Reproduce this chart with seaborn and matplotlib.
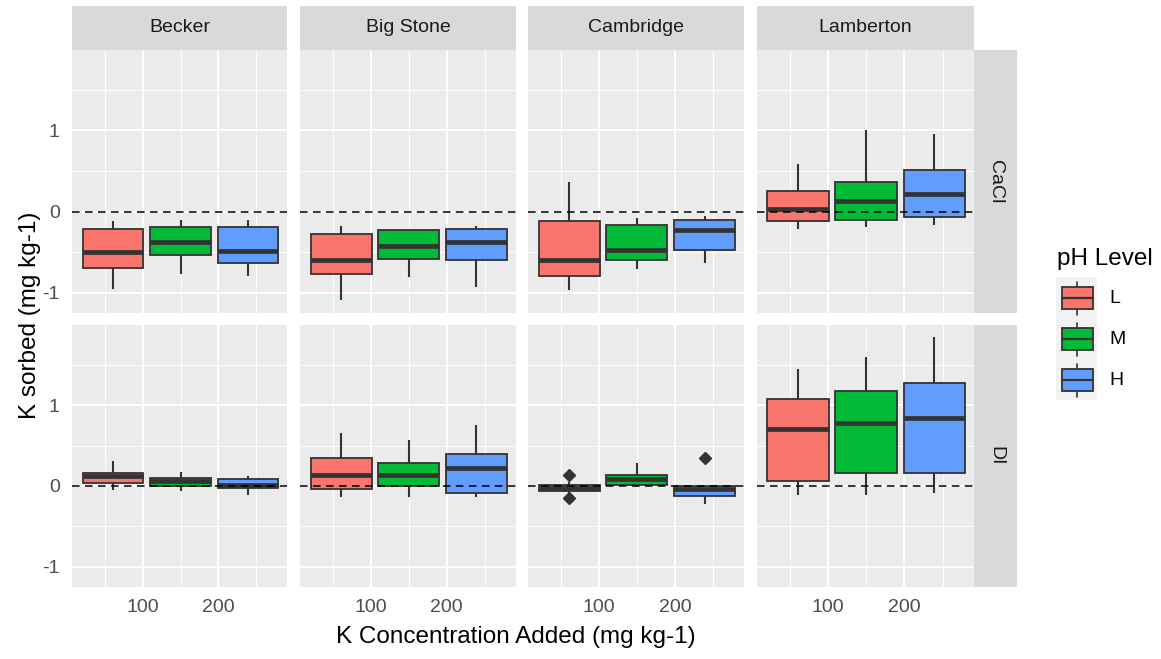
import numpy as np
import pandas as pd
import matplotlib
matplotlib.use("Agg")
import matplotlib.pyplot as plt
import seaborn as sns
from matplotlib.patches import Rectangle
from matplotlib.lines import Line2D

# ---------------- data ----------------
sites = ["Becker", "Big Stone", "Cambridge", "Lamberton"]
solutions = ["CaCl", "DI"]
ph_levels = ["L", "M", "H"]
ph_colors = ["#F8766D", "#00BA38", "#619CFF"]
k_added = 150
x_major = [100, 200]
x_minor = [50, 150, 250]
y_major = [-1, 0, 1]
y_minor = [-0.5, 0.5, 1.5]

# five-number summaries [min, q1, median, q3, max] for pH L, M, H
becker_cacl = [[-0.95, -0.70, -0.50, -0.22, -0.11],
               [-0.77, -0.53, -0.38, -0.185, -0.10],
               [-0.79, -0.63, -0.48, -0.185, -0.10]]
bigstone_cacl = [[-1.09, -0.77, -0.60, -0.28, -0.18],
                 [-0.81, -0.58, -0.42, -0.23, -0.21],
                 [-0.93, -0.60, -0.38, -0.22, -0.18]]
cambridge_cacl = [[-0.97, -0.79, -0.60, -0.12, 0.36],
                  [-0.71, -0.60, -0.47, -0.165, -0.08],
                  [-0.63, -0.47, -0.23, -0.10, -0.06]]
lamberton_cacl = [[-0.21, -0.12, 0.03, 0.255, 0.58],
                  [-0.19, -0.10, 0.136, 0.37, 1.00],
                  [-0.17, -0.07, 0.22, 0.51, 0.96]]
becker_di = [[-0.045, 0.037, 0.12, 0.16, 0.31],
             [-0.065, 0.0, 0.065, 0.10, 0.17],
             [-0.11, -0.025, 0.012, 0.086, 0.127]]
bigstone_di = [[-0.13, -0.04, 0.14, 0.34, 0.66],
               [-0.13, 0.0, 0.13, 0.28, 0.57],
               [-0.13, -0.09, 0.22, 0.40, 0.76]]
cambridge_di = [[-0.09, -0.065, -0.03, 0.008, 0.045],
                [-0.015, 0.012, 0.085, 0.13, 0.29],
                [-0.22, -0.12, -0.035, 0.0, 0.0]]
lamberton_di = [[-0.11, 0.06, 0.70, 1.08, 1.45],
                [-0.11, 0.16, 0.78, 1.18, 1.60],
                [-0.09, 0.16, 0.84, 1.27, 1.84]]

# outliers (Cambridge, DI)
outlier_site = ["Cambridge", "Cambridge", "Cambridge"]
outlier_solution = ["DI", "DI", "DI"]
outlier_ph = ["L", "L", "H"]
outlier_value = [0.135, -0.15, 0.35]

panel_data = {
    ("CaCl", "Becker"): becker_cacl, ("CaCl", "Big Stone"): bigstone_cacl,
    ("CaCl", "Cambridge"): cambridge_cacl, ("CaCl", "Lamberton"): lamberton_cacl,
    ("DI", "Becker"): becker_di, ("DI", "Big Stone"): bigstone_di,
    ("DI", "Cambridge"): cambridge_di, ("DI", "Lamberton"): lamberton_di,
}
rows = []
for (sol, site), summ in panel_data.items():
    for lvl, vals in zip(ph_levels, summ):
        for v in vals:
            rows.append(dict(site=site, solution=sol, ph=lvl, k=k_added, value=v))
df = pd.DataFrame(rows)
out_df = pd.DataFrame(dict(site=outlier_site, solution=outlier_solution,
                           ph=outlier_ph, value=outlier_value))

# ---------------- style / layout ----------------
sns.set_style("white")
plt.rcParams["font.family"] = ["Liberation Sans", "DejaVu Sans"]

W, H = 1161, 659
fig = plt.figure(figsize=(W / 100, H / 100), dpi=100)

col_x = [(72.3, 287.3), (300.3, 515.7), (528.3, 744.0), (756.7, 974.0)]
row_y = [(50.0, 312.7), (325.0, 586.7)]
strip_top = (6.0, 50.0)
strip_right = (974.0, 1017.3)


def fr(x0, y0, x1, y1):
    return [x0 / W, 1 - y1 / H, (x1 - x0) / W, (y1 - y0) / H]


small = 14
big = 17.5
tick_col = "#4D4D4D"
edge = "#333333"

for r, sol in enumerate(solutions):
    for c, site in enumerate(sites):
        ax = fig.add_axes(fr(col_x[c][0], row_y[r][0], col_x[c][1], row_y[r][1]))
        sub = df[(df.site == site) & (df.solution == sol)]
        sns.boxplot(data=sub, x="k", y="value", hue="ph", hue_order=ph_levels,
                    palette=ph_colors, native_scale=True, orient="x",
                    width=267, gap=0.1, whis=(0, 100), saturation=1,
                    linecolor=edge, linewidth=1.3, legend=False, ax=ax,
                    medianprops={"linewidth": 3.4, "color": edge,
                                 "solid_capstyle": "butt"},
                    whiskerprops={"linewidth": 1.5, "color": edge},
                    capprops={"visible": False})
        # outliers, placed at the dodged box centres drawn by seaborn
        centers = []
        for p in ax.patches:
            ext = p.get_path().get_extents()
            centers.append((ext.x0 + ext.x1) / 2)
        centers = sorted(centers)
        osub = out_df[(out_df.site == site) & (out_df.solution == sol)]
        for _, o in osub.iterrows():
            xi = centers[ph_levels.index(o.ph)]
            ax.plot([xi], [o.value], marker="D", ms=6.2, color=edge,
                    linestyle="none", zorder=4)
        ax.axhline(0, color="black", lw=1.1, ls=(0, (5, 3.5)), zorder=6)

        ax.set_facecolor("#EBEBEB")
        ax.set_xlim(7, 291)
        ax.set_ylim(-1.245, 1.99)
        ax.set_xticks(x_major)
        ax.set_xticks(x_minor, minor=True)
        ax.set_yticks(y_major)
        ax.set_yticks(y_minor, minor=True)
        ax.grid(which="major", color="white", lw=1.4)
        ax.grid(which="minor", color="white", lw=0.7)
        ax.set_axisbelow(True)
        for s in ax.spines.values():
            s.set_visible(False)
        ax.set_xlabel("")
        ax.set_ylabel("")
        ax.tick_params(which="minor", length=0)
        ax.tick_params(which="major", color=edge, width=1.1, length=4.5,
                       labelcolor=tick_col, labelsize=small)
        ax.tick_params(axis="x", pad=4)
        ax.tick_params(axis="y", pad=4.5)
        if r == 0:
            ax.tick_params(axis="x", length=0, labelbottom=False)
        if c > 0:
            ax.tick_params(axis="y", length=0, labelleft=False)
        ax.set_yticklabels([str(v) for v in y_major])

        if r == 0:
            x0, x1 = col_x[c]
            fig.add_artist(Rectangle((x0 / W, 1 - strip_top[1] / H),
                                     (x1 - x0) / W, (strip_top[1] - strip_top[0]) / H,
                                     transform=fig.transFigure, facecolor="#D9D9D9",
                                     edgecolor="none"))
            fig.text((x0 + x1) / 2 / W, 1 - sum(strip_top) / 2 / H, site,
                     ha="center", va="center", color="#1A1A1A", size=small)
    y0, y1 = row_y[r]
    fig.add_artist(Rectangle((strip_right[0] / W, 1 - y1 / H),
                             (strip_right[1] - strip_right[0]) / W, (y1 - y0) / H,
                             transform=fig.transFigure, facecolor="#D9D9D9",
                             edgecolor="none"))
    fig.text(sum(strip_right) / 2 / W, 1 - (y0 + y1) / 2 / H, sol, rotation=-90,
             ha="center", va="center", color="#1A1A1A", size=small)

# axis titles
fig.text(516 / W, 1 - 637 / H, "K Concentration Added (mg kg-1)",
         ha="center", va="center", size=big, color="black")
fig.text(30 / W, 1 - 315 / H, "K sorbed (mg kg-1)", rotation=90,
         ha="center", va="center", size=big, color="black")

# legend (ggplot-style boxplot keys)
fig.text(1056.7 / W, 1 - 265 / H, "pH Level", ha="left", va="baseline",
         size=big, color="black")
fig.add_artist(Rectangle((1056 / W, 1 - 400 / H), 41 / W, 123.3 / H,
                         transform=fig.transFigure, facecolor="#F2F2F2",
                         edgecolor="none", zorder=1))
for i, (lvl, col) in enumerate(zip(ph_levels, ph_colors)):
    cy = 298.2 + 41 * i
    fig.add_artist(Line2D([1077.2 / W, 1077.2 / W],
                          [1 - (cy - 16.5) / H, 1 - (cy + 16.5) / H],
                          transform=fig.transFigure, color=edge, lw=1.2, zorder=2))
    fig.add_artist(Rectangle((1061.7 / W, 1 - (cy + 11) / H), 31 / W, 22 / H,
                             transform=fig.transFigure, facecolor=col,
                             edgecolor=edge, lw=1.3, zorder=3))
    fig.add_artist(Line2D([1061.7 / W, 1092.7 / W], [1 - cy / H, 1 - cy / H],
                          transform=fig.transFigure, color=edge, lw=1.6, zorder=4))
    fig.text(1109 / W, 1 - cy / H, lvl, ha="left", va="center", size=small,
             color="black")

fig.savefig("out.png", dpi=100, facecolor="white")
